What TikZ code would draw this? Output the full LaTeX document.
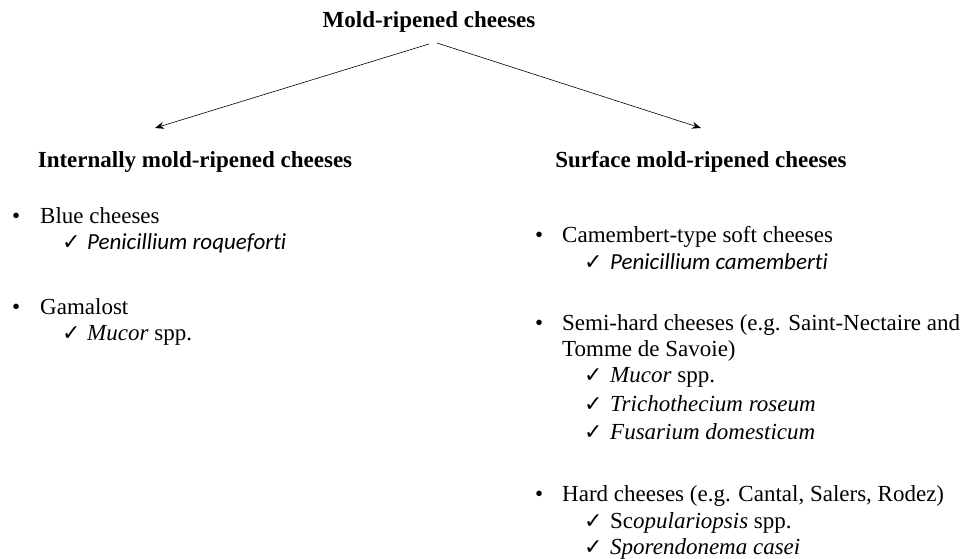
\documentclass[tikz,border=0pt]{standalone}
\usepackage{fontspec}
\setmainfont{Liberation Serif}
\newfontfamily\calib[Ligatures={NoCommon}]{Carlito}
\newfontfamily\symf{DejaVu Sans}
\usetikzlibrary{arrows.meta}
\begin{document}
\begin{tikzpicture}[x=1pt,y=-1pt,
  txt/.style={anchor=base west,inner sep=0pt,font=\fontsize{23}{26}\selectfont},
  hdr/.style={anchor=base,inner sep=0pt,font=\fontsize{23}{26}\selectfont\bfseries},
  sans/.style={anchor=base west,inner sep=0pt,font=\calib\itshape\fontsize{23}{26}\selectfont},
  bul/.style={anchor=base west,inner sep=0pt,font=\fontsize{23}{26}\selectfont},
  chk/.style={anchor=base west,inner sep=0pt,font=\symf\fontsize{22}{24}\selectfont},
  arr/.style={-{Stealth[length=9pt,width=7pt]},line width=0.6pt}]
\useasboundingbox (0,0) rectangle (964,558);
% headers
\node[hdr] (top) at (429,27) {Mold-ripened cheeses};
\node[hdr] (int) at (195,167) {Internally mold-ripened cheeses};
\node[hdr] (sur) at (701,167) {Surface mold-ripened cheeses};
\coordinate (lstart) at (429,44);
\coordinate (rstart) at (437,43);
\coordinate (lend) at (155,128);
\coordinate (rend) at (701,128);
\draw[arr] (lstart) -- (lend);
\draw[arr] (rstart) -- (rend);
% left column
\node[bul] (b1) at (12,223) {\textbullet};
\node[txt] (t1) at (40,223) {Blue cheeses};
\node[chk] (c1) at (62,249) {✓};
\node[sans] (s1) at (87,249) {Penicillium roqueforti};
\node[bul] (b2) at (12,314) {\textbullet};
\node[txt] (t2) at (40,314) {Gamalost};
\node[chk] (c2) at (62,340) {✓};
\node[txt] (s2) at (87,340) {\textit{Mucor} spp.};
% right column
\node[bul] (b3) at (535,242) {\textbullet};
\node[txt] (t3) at (562,242) {Camembert-type soft cheeses};
\node[chk] (c3) at (584,269) {✓};
\node[sans] (s3) at (610,269) {Penicillium camemberti};
\node[bul] (b4) at (535,330) {\textbullet};
\node[txt] (t4) at (562,330) {Semi-hard cheeses (e.g. Saint-Nectaire and};
\node[txt] (t4b) at (562,356) {Tomme de Savoie)};
\node[chk] (c4) at (584,382) {✓};
\node[txt] (s4) at (610,382) {\textit{Mucor} spp.};
\node[chk] (c5) at (584,411) {✓};
\node[txt] (s5) at (610,411) {\textit{Trichothecium roseum}};
\node[chk] (c6) at (584,439) {✓};
\node[txt] (s6) at (610,439) {\textit{Fusarium domesticum}};
\node[bul] (b5) at (535,501) {\textbullet};
\node[txt] (t5) at (562,501) {Hard cheeses (e.g. Cantal, Salers, Rodez)};
\node[chk] (c7) at (584,528) {✓};
\node[txt] (s7) at (610,528) {Sc\textit{opulariopsis} spp.};
\node[chk] (c8) at (584,554) {✓};
\node[txt] (s8) at (610,554) {\textit{Sporendonema casei}};
\end{tikzpicture}
\end{document}
